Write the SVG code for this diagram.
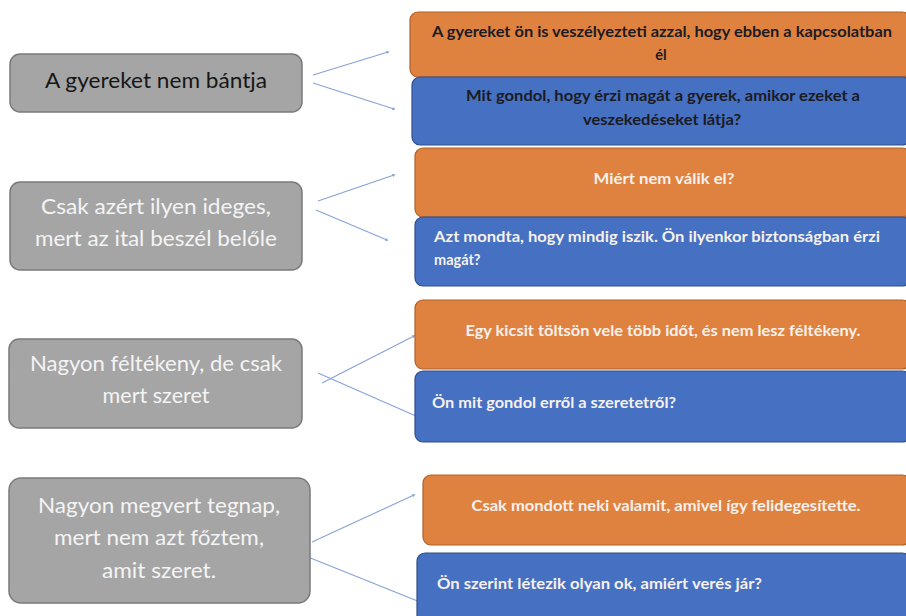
<svg xmlns="http://www.w3.org/2000/svg" width="906" height="616" viewBox="0 0 906 616">
<defs>
<style>
.src rect{fill:#a5a5a5;stroke:#7a7a7a;stroke-width:1.5}
.src text{font-family:Lato,"Open Sans","Liberation Sans",sans-serif;font-size:21px;fill:#f4f4f4;text-anchor:middle}
.src text.dark{fill:#161616}
.or rect{fill:#e0823f;stroke:#b0602a;stroke-width:1.2}
.bl rect{fill:#4670c2;stroke:#2f4f8a;stroke-width:1.2}
.q text{font-family:Lato,"Open Sans","Liberation Sans",sans-serif;font-size:14.5px;font-weight:bold;fill:#f6f1ec}
.q text.dark{fill:#1b1b22}
.q text.c{text-anchor:middle}
#connectors line{stroke:#86a2d6;stroke-width:1.1;fill:none;marker-end:url(#dot)}
</style>
<marker id="dot" viewBox="0 0 6 6" refX="3" refY="3" markerWidth="3" markerHeight="3" orient="auto">
<path d="M0,0 L6,3 L0,6 z" fill="#86a2d6"/>
</marker>
</defs>
<rect x="0" y="0" width="906" height="616" fill="#ffffff"/>

<g id="connectors">
<line x1="313" y1="75" x2="388" y2="52"/>
<line x1="313" y1="83" x2="394" y2="109"/>
<line x1="318" y1="201" x2="394" y2="175"/>
<line x1="316" y1="210" x2="387" y2="240"/>
<line x1="322" y1="383" x2="414" y2="336"/>
<line x1="318" y1="373" x2="425" y2="420"/>
<line x1="312" y1="542" x2="414" y2="495"/>
<line x1="303" y1="555" x2="420" y2="602"/>
</g>

<g id="s1" class="src">
<rect x="10" y="54" width="292" height="58" rx="10"/>
<text class="dark" x="156" y="88" textLength="222" lengthAdjust="spacingAndGlyphs">A gyereket nem bántja</text>
</g>
<g id="s2" class="src">
<rect x="10" y="182" width="292" height="88" rx="10"/>
<text x="156" y="214" textLength="230" lengthAdjust="spacingAndGlyphs">Csak azért ilyen ideges,</text>
<text x="156" y="246" textLength="242" lengthAdjust="spacingAndGlyphs">mert az ital beszél belőle</text>
</g>
<g id="s3" class="src">
<rect x="9" y="339" width="293" height="89" rx="10"/>
<text x="156" y="371" textLength="252" lengthAdjust="spacingAndGlyphs">Nagyon féltékeny, de csak</text>
<text x="156" y="403" textLength="107" lengthAdjust="spacingAndGlyphs">mert szeret</text>
</g>
<g id="s4" class="src">
<rect x="9" y="478" width="301" height="125" rx="12"/>
<text x="159" y="513" textLength="242" lengthAdjust="spacingAndGlyphs">Nagyon megvert tegnap,</text>
<text x="159" y="545" textLength="210" lengthAdjust="spacingAndGlyphs">mert nem azt főztem,</text>
<text x="159" y="578" textLength="114" lengthAdjust="spacingAndGlyphs">amit szeret.</text>
</g>

<g id="o1" class="q or">
<rect x="410" y="12" width="500" height="65" rx="8"/>
<text class="dark c" x="662" y="37" textLength="460" lengthAdjust="spacingAndGlyphs">A gyereket ön is veszélyezteti azzal, hogy ebben a kapcsolatban</text>
<text class="dark c" x="661" y="60">él</text>
</g>
<g id="b1" class="q bl">
<rect x="412" y="77" width="498" height="68" rx="8"/>
<text class="dark c" x="663" y="101" textLength="394" lengthAdjust="spacingAndGlyphs">Mit gondol, hogy érzi magát a gyerek, amikor ezeket a</text>
<text class="dark c" x="662" y="125" textLength="158" lengthAdjust="spacingAndGlyphs">veszekedéseket látja?</text>
</g>
<g id="o2" class="q or">
<rect x="415" y="148" width="495" height="69" rx="8"/>
<text class="c" x="664" y="184" textLength="141" lengthAdjust="spacingAndGlyphs">Miért nem válik el?</text>
</g>
<g id="b2" class="q bl">
<rect x="415" y="217" width="495" height="69" rx="8"/>
<text x="434" y="242" textLength="446" lengthAdjust="spacingAndGlyphs">Azt mondta, hogy mindig iszik. Ön ilyenkor biztonságban érzi</text>
<text x="434" y="265">magát?</text>
</g>
<g id="o3" class="q or">
<rect x="415" y="300" width="495" height="69" rx="8"/>
<text class="c" x="663" y="336" textLength="395" lengthAdjust="spacingAndGlyphs">Egy kicsit töltsön vele több időt, és nem lesz féltékeny.</text>
</g>
<g id="b3" class="q bl">
<rect x="415" y="371" width="495" height="71" rx="8"/>
<text x="432" y="408" textLength="244" lengthAdjust="spacingAndGlyphs">Ön mit gondol erről a szeretetről?</text>
</g>
<g id="o4" class="q or">
<rect x="423" y="475" width="487" height="70" rx="8"/>
<text class="c" x="666" y="511" textLength="389" lengthAdjust="spacingAndGlyphs">Csak mondott neki valamit, amivel így felidegesítette.</text>
</g>
<g id="b4" class="q bl">
<rect x="417" y="553" width="493" height="75" rx="8"/>
<text x="437" y="589" textLength="325" lengthAdjust="spacingAndGlyphs">Ön szerint létezik olyan ok, amiért verés jár?</text>
</g>
</svg>
